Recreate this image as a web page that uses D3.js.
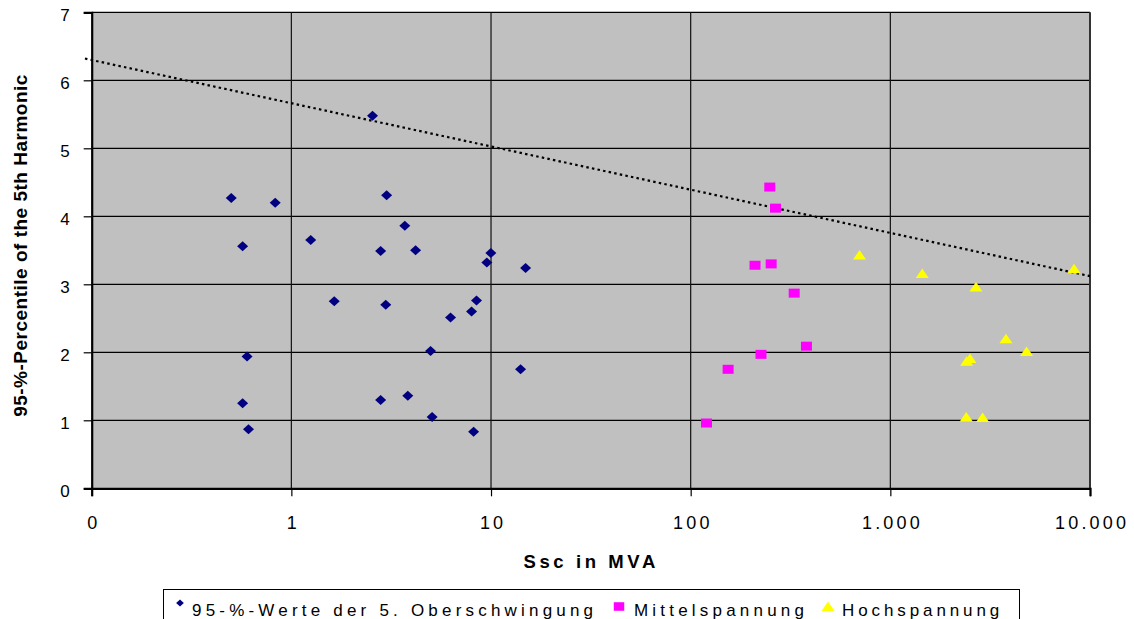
<!DOCTYPE html>
<html><head><meta charset="utf-8">
<script src="https://cdn.jsdelivr.net/npm/d3@7"></script>
<style>
html,body{margin:0;padding:0;background:#fff;}
svg{display:block;font-family:"Liberation Sans",Arial,sans-serif;}
</style></head>
<body><svg id="c" width="1134" height="619"></svg>
<script>
// ---- data ----
const blueX = [0.50,0.83,0.57,0.60,0.57,0.61,1.25,1.64,2.55,3.00,2.80,2.97,2.80,3.70,4.19,9.98,9.53,14.9,8.46,7.99,6.27,4.98,14.06,3.83,5.07,8.18];
const blueY = [4.27,4.20,3.56,1.94,1.25,0.87,3.65,2.75,5.48,4.31,3.49,2.70,1.30,3.86,3.50,3.46,3.32,3.24,2.76,2.60,2.51,2.02,1.75,1.36,1.05,0.83];
const magX = [249,266,210,253,330,380,225,154,120];
const magY = [4.43,4.12,3.28,3.30,2.87,2.09,1.97,1.75,0.96];
const yelX = [701,1445,2685,8318,3795,4813,2505,2410,2400,2897];
const yelY = [3.43,3.16,2.96,3.23,2.20,2.01,1.91,1.87,1.05,1.04];
const trendX = [0.0925,10000];
const trendY = [6.32,3.12];
const xTicks = [0.1,1,10,100,1000,10000];
const xTickLabels = ["0","1","10","100","1.000","10.000"];
const yTicks = [0,1,2,3,4,5,6,7];
const seriesNames = ["95-%-Werte der 5. Oberschwingung","Mittelspannung","Hochspannung"];
const colors = ["#000080","#ff00ff","#ffff00"];

const svg = d3.select("#c");
const L=91.7, R=1090, T=12.3, B=488.3;
const x = d3.scaleLog().domain([0.1,10000]).range([L,R]);
const y = d3.scaleLinear().domain([0,7]).range([B,T]);

svg.append("rect").attr("x",L).attr("y",T).attr("width",R-L).attr("height",B-T).attr("fill","#c0c0c0");

// gridlines
svg.append("g").selectAll("line").data(yTicks.slice(1)).join("line")
  .attr("x1",L).attr("x2",R).attr("y1",d=>y(d)).attr("y2",d=>y(d))
  .attr("stroke","#000").attr("stroke-width",1.2);
svg.append("g").selectAll("line").data(xTicks.slice(1,-1)).join("line")
  .attr("x1",d=>x(d)).attr("x2",d=>x(d)).attr("y1",T).attr("y2",B)
  .attr("stroke","#111").attr("stroke-width",1.2);
svg.append("line").attr("x1",R).attr("x2",R).attr("y1",T).attr("y2",B).attr("stroke","#333").attr("stroke-width",2);

// axes
const yAxis = d3.axisLeft(y).tickValues(yTicks).tickFormat(d3.format("d")).tickSize(8).tickPadding(14);
const gy = svg.append("g").attr("transform",`translate(${L},0)`).call(yAxis);
gy.select(".domain").attr("stroke","#000").attr("stroke-width",2.2);
gy.selectAll(".tick line").attr("stroke","#000").attr("stroke-width",1.2);
gy.selectAll("text").attr("font-size",17).attr("font-family","Liberation Sans, Arial, sans-serif").attr("fill","#000").attr("dy","0.5em");

const xAxis = d3.axisBottom(x).tickValues(xTicks).tickFormat((d,i)=>xTickLabels[i]).tickSize(8).tickPadding(14);
const gx = svg.append("g").attr("transform",`translate(0,${B})`).call(xAxis);
gx.select(".domain").attr("stroke","#000").attr("stroke-width",2.2);
gx.selectAll(".tick line").attr("stroke","#000").attr("stroke-width",1.2);
gx.selectAll("text").attr("font-size",18).attr("font-family","Liberation Sans, Arial, sans-serif").attr("fill","#000")
  .attr("letter-spacing","3.2px").attr("dx","1.6px").attr("y",null).attr("dy",null).attr("transform","translate(0,41)");

// trendline
svg.append("path").datum(trendX.map((d,i)=>[d,trendY[i]]))
  .attr("d",d3.line().x(d=>x(d[0])).y(d=>y(d[1])))
  .attr("stroke","#000").attr("stroke-width",2.2).attr("stroke-dasharray","2.5,3.2").attr("fill","none");

// markers
const diamond = (cx,cy,s=1)=>`M${cx},${cy-5*s}L${cx+5.5*s},${cy}L${cx},${cy+5*s}L${cx-5.5*s},${cy}Z`;
const square = (cx,cy,s=1)=>`M${cx-5.5*s},${cy-4.5*s}h${11*s}v${9*s}h${-11*s}Z`;
const tri = (cx,cy,s=1)=>`M${cx},${cy-5*s}L${cx+6.5*s},${cy+4.5*s}L${cx-6.5*s},${cy+4.5*s}Z`;

svg.append("g").selectAll("path").data(blueX.map((d,i)=>[d,blueY[i]])).join("path")
  .attr("d",d=>diamond(x(d[0]),y(d[1]))).attr("fill",colors[0]);
svg.append("g").selectAll("path").data(magX.map((d,i)=>[d,magY[i]])).join("path")
  .attr("d",d=>square(x(d[0]),y(d[1]))).attr("fill",colors[1]);
svg.append("g").selectAll("path").data(yelX.map((d,i)=>[d,yelY[i]])).join("path")
  .attr("d",d=>tri(x(d[0]),y(d[1]))).attr("fill",colors[2]);

// axis titles
svg.append("text").attr("x",591.2).attr("y",568.3).attr("text-anchor","middle")
  .attr("font-size",18.5).attr("font-weight","bold").attr("letter-spacing","3.6px").text("Ssc in MVA");
svg.append("text").attr("transform","translate(27,245.5) rotate(-90)").attr("text-anchor","middle")
  .attr("font-size",19).attr("font-weight","bold").attr("letter-spacing","0.5px").text("95-%-Percentile of the 5th Harmonic");

// legend
const lg = svg.append("g");
lg.append("rect").attr("x",163.5).attr("y",589.5).attr("width",856).attr("height",45).attr("fill","#fff").attr("stroke","#000").attr("stroke-width",1);
const items = [
  {mx:180,my:603,tx:192,shape:diamond,s:0.7,ls:4.2},
  {mx:619,my:606.5,tx:634,shape:square,s:0.95,ls:4.2},
  {mx:828,my:606.5,tx:842,shape:tri,s:1.0,ls:3.9}];
items.forEach((it,i)=>{
  lg.append("path").attr("d",it.shape(it.mx,it.my,it.s)).attr("fill",colors[i]);
  lg.append("text").attr("x",it.tx).attr("y",615.5).attr("font-size",17).attr("letter-spacing",it.ls+"px").text(seriesNames[i]);
});
</script></body></html>
